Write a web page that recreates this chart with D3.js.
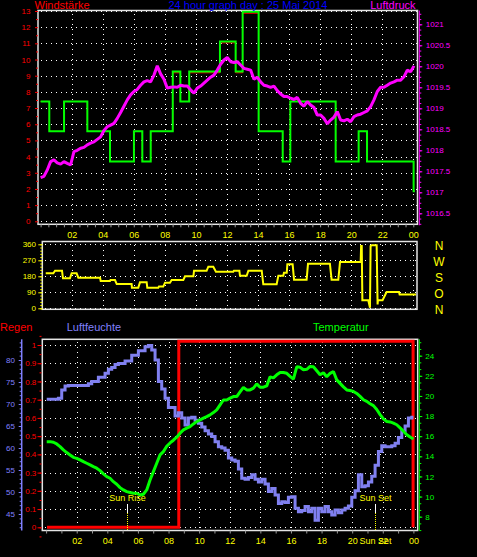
<!DOCTYPE html>
<html><head><meta charset="utf-8">
<script src="https://cdn.jsdelivr.net/npm/d3@7"></script>
<style>
html,body{margin:0;padding:0;background:#000;}
svg{display:block;font-family:"Liberation Sans",Arial,sans-serif;}
</style></head><body>
<svg id="chart" width="477" height="557"></svg>
<script>
// ---------------- DATA ----------------
const hourTicks = [2,4,6,8,10,12,14,16,18,20,22,24];
const hourLabels = ["02","04","06","08","10","12","14","16","18","20","22","00"];
const windTicks = [0,1,2,3,4,5,6,7,8,9,10,11,12,13];
const pressureTicks = [1016.5,1017,1017.5,1018,1018.5,1019,1019.5,1020,1020.5,1021];
const pressureLabels = ["1016.5","1017","1017.5","1018","1018.5","1019","1019.5","1020","1020.5","1021"];
const dirTicks = [0,90,180,270,360];
const dirLetters = ["N","O","S","W","N"]; // for 0,90,180,270,360
const rainTicks = [0,0.1,0.2,0.3,0.4,0.5,0.6,0.7,0.8,0.9,1];
const rainLabels = ["0","0.1","0.2","0.3","0.4","0.5","0.6","0.7","0.8","0.9","1"];
const humTicks = [45,50,55,60,65,70,75,80];
const tempTicks = [8,10,12,14,16,18,20,22,24];

// wind speed (mean, green) and gust (red), step series
const windHours = [0,0.56,1.51,3.01,4.47,6.01,6.55,7.09,8.51,9.0,9.57,11.55,12.56,13.01,14.04,15.59,16.08,19.0,20.48,21.02,24.02,24.1];
const windMean  = [7.41,5.56,7.41,5.56,3.70,5.56,3.70,5.56,9.26,7.41,9.26,11.11,9.26,12.96,5.56,3.70,7.41,3.70,5.56,3.70,1.85,1.85];
const windGust  = [7.41,5.56,7.41,5.56,3.70,5.56,3.70,5.56,9.18,7.41,9.18,11.03,9.18,12.86,5.56,3.70,7.41,3.70,5.56,3.70,1.85,1.85];

// air pressure (hPa), logged every ~12.9 min from 00:00
const pressureStartHour = 0;
const pressureStepMin = 12.88;
const pressure = [
1017.35,1017.38,1017.53,1017.73,1017.77,1017.70,1017.67,1017.73,1017.69,1017.65,
1017.97,1018.00,1018.05,1018.07,1018.13,1018.17,1018.20,1018.26,1018.32,1018.47,
1018.56,1018.60,1018.64,1018.76,1018.90,1019.05,1019.20,1019.32,1019.40,1019.45,
1019.55,1019.63,1019.66,1019.63,1019.79,1020.01,1019.82,1019.69,1019.48,1019.50,
1019.51,1019.50,1019.55,1019.53,1019.53,1019.44,1019.36,1019.48,1019.53,1019.60,
1019.67,1019.74,1019.79,1019.91,1020.05,1020.15,1020.21,1020.11,1020.09,1020.11,
1020.03,1019.95,1019.93,1019.91,1019.69,1019.74,1019.63,1019.55,1019.53,1019.50,
1019.53,1019.42,1019.34,1019.28,1019.28,1019.24,1019.21,1019.26,1019.12,1019.05,
1019.16,1019.08,1019.02,1018.84,1018.84,1018.76,1018.63,1018.72,1018.79,1018.92,
1018.72,1018.70,1018.74,1018.68,1018.80,1018.84,1018.86,1018.90,1018.94,1019.04,
1019.20,1019.40,1019.50,1019.50,1019.55,1019.60,1019.63,1019.67,1019.67,1019.75,
1019.91,1019.87,1020.01];

// wind direction (degrees), polyline vertices
const dirHours = [0.33,0.82,0.93,1.38,1.44,1.89,2.0,2.32,2.43,3.83,3.87,4.47,4.50,4.79,4.90,5.86,5.88,6.29,6.40,6.83,6.87,7.58,7.62,7.90,8.01,8.33,8.44,9.19,9.30,9.84,9.88,10.69,10.80,11.12,11.29,12.41,12.45,12.80,12.84,13.27,13.38,14.24,14.34,15.20,15.31,15.63,15.67,15.85,15.89,16.23,16.32,17.13,17.22,18.63,18.74,19.17,19.28,20.61,20.64,20.68,20.72,21.10,21.16,21.21,21.25,21.32,21.64,21.70,21.72,22.02,22.28,23.08,23.12,24.17];
const dirValues = [197,197,211,211,169,169,197,197,172,172,154,154,159,159,137,137,116,116,146,146,116,116,122,122,144,144,159,159,180,180,211,211,234,234,206,206,211,211,183,183,211,211,135,135,183,183,200,200,248,248,161,161,251,251,161,161,260,260,350,350,45,45,22,3,350,354,354,22,45,45,92,92,77,77];

// humidity (%) and temperature (°C), logged every ~13.1 min from 00:02
const climateStartHour = 0.04;
const climateStepMin = 13.07;
const humidity = [
71.1,71.1,71.1,71.1,71.3,73.2,74.1,74.2,74.2,74.2,
74.2,74.2,74.2,74.6,75.1,75.1,76.1,76.1,77.0,77.9,
78.3,79.0,79.2,79.2,79.8,79.8,81.1,81.1,82.1,82.1,
83.0,83.3,82.3,80.0,75.1,73.4,71.3,69.2,69.2,67.3,
68.0,66.8,65.2,66.8,67.0,66.3,65.6,64.8,63.9,63.2,
62.6,61.4,60.3,60.0,59.5,57.7,57.3,57.0,55.2,53.1,
52.9,53.3,53.9,52.9,52.3,52.9,51.8,50.1,50.8,49.3,
47.4,47.8,47.6,48.8,48.9,46.3,45.5,45.8,46.7,45.5,
46.3,43.6,46.3,45.5,46.7,45.5,44.8,45.9,45.3,45.9,
46.3,46.8,48.8,50.3,53.9,51.2,51.4,52.3,53.6,56.1,
59.2,60.5,60.3,60.3,60.5,61.1,62.4,63.8,65.0,66.8,
67.0];
const temperature = [
15.46,15.46,15.40,15.23,14.97,14.64,14.37,14.14,13.90,13.80,
13.64,13.47,13.31,13.15,12.98,12.82,12.58,12.25,11.98,11.82,
11.48,11.22,10.89,10.66,10.49,10.40,10.33,10.33,10.16,10.23,
10.66,11.65,12.48,13.31,14.14,14.47,15.00,15.33,15.60,15.90,
16.30,16.63,16.80,16.95,17.22,17.45,17.62,17.79,17.95,18.12,
18.35,18.62,19.11,19.60,19.60,19.78,19.94,19.94,20.40,20.85,
20.60,20.60,20.78,21.20,20.87,20.87,21.00,21.90,21.80,22.10,
22.33,22.33,22.25,21.95,21.67,22.90,22.85,22.60,22.65,22.93,
22.90,22.50,22.10,22.30,21.90,22.25,22.43,21.60,21.25,20.90,
20.60,20.54,20.45,20.25,19.96,19.62,19.46,19.23,19.04,18.65,
18.15,17.72,17.46,17.42,17.30,17.14,16.82,16.50,16.15,15.92,
15.72];

// rain
const rainHours = [0.06,8.67,8.67,23.98,23.98];
const rainValues = [0,0,1.02,1.02,0];

const sunRiseHour = 5.31;
const sunSetHour = 21.52;

// ---------------- DRAWING ----------------
const svg = d3.select("#chart");
svg.append("rect").attr("width",477).attr("height",557).attr("fill","#000");

const xTop = d3.scaleLinear().domain([0,24]).range([40.6,413.3]);
const yWind = d3.scaleLinear().domain([0,13]).range([221.3,11]);
const yPress = d3.scaleLinear().domain([1016.5,1021]).range([213.3,24.3]);
const yDir = d3.scaleLinear().domain([0,360]).range([308.3,244.3]);
const xBot = d3.scaleLinear().domain([0,24]).range([46.1,413.4]);
const yRain = d3.scaleLinear().domain([0,1]).range([527.3,345]);
const yHum = d3.scaleLinear().domain([45,80]).range([514,360]);
const yTemp = d3.scaleLinear().domain([8,24]).range([516.7,355.7]);

const topBox = {x0:38,x1:417.5,y0:10.5,y1:224.3};
const dirBox = {x0:42.3,x1:417,y0:241.5,y1:309.3};
const botBox = {x0:42.3,x1:417.7,y0:339.3,y1:530.5};

const FONT = '"Liberation Sans",Arial,sans-serif';
const px = v => Math.round(v) + 0.5;

function grid(box, xs, xs_scale, ys, ys_scale){
  const g = svg.append("g").attr("stroke","#fff").attr("stroke-width",1)
    .attr("stroke-dasharray","1,4").attr("shape-rendering","crispEdges");
  g.selectAll(null).data(ys).join("line")
    .attr("x1",box.x0+3).attr("x2",box.x1)
    .attr("y1",d=>px(ys_scale(d))).attr("y2",d=>px(ys_scale(d)));
  g.selectAll(null).data(xs).join("line")
    .attr("y1",box.y0+3).attr("y2",box.y1)
    .attr("x1",d=>px(xs_scale(d))).attr("x2",d=>px(xs_scale(d)));
}
function border(box){
  svg.append("rect").attr("x",box.x0).attr("y",box.y0)
    .attr("width",box.x1-box.x0).attr("height",box.y1-box.y0)
    .attr("fill","none").attr("stroke","#e4e4e4").attr("stroke-width",1.5);
}
function styleAxis(g, color, size){
  g.select(".domain").remove();
  g.selectAll(".tick line").attr("stroke",color);
  g.selectAll(".tick text").attr("fill",color).attr("font-size",size).attr("font-family",FONT);
}

// ---------- TOP PANEL ----------
grid(topBox, hourTicks, xTop, windTicks, yWind);
border(topBox);

// left red axis (wind)
svg.append("g").attr("transform",`translate(${topBox.x0},0)`)
  .call(d3.axisLeft(yWind).tickValues(d3.range(0.5,13,1)).tickSize(2).tickFormat(""))
  .call(g=>styleAxis(g,"#ff0000",8));
svg.append("g").attr("transform",`translate(${topBox.x0},0)`)
  .call(d3.axisLeft(yWind).tickValues(windTicks).tickSize(3).tickPadding(4.5))
  .call(g=>styleAxis(g,"#ff0000",8));

// right magenta axis (pressure)
svg.append("line").attr("x1",419.3).attr("x2",419.3).attr("y1",topBox.y0).attr("y2",topBox.y1+1)
  .attr("stroke","#ff00ff").attr("stroke-width",1);
svg.append("g").attr("transform","translate(419.3,0)")
  .call(d3.axisRight(yPress).tickValues(d3.range(1016.25,1021.3,0.125)).tickSize(2).tickFormat(""))
  .call(g=>styleAxis(g,"#ff00ff",8));
svg.append("g").attr("transform","translate(419.3,0)")
  .call(d3.axisRight(yPress).tickValues(pressureTicks).tickSize(3).tickPadding(3.5)
    .tickFormat((d,i)=>pressureLabels[i]))
  .call(g=>styleAxis(g,"#ff00ff",8));

// bottom time axis (top panel)
svg.append("g").attr("transform",`translate(0,${topBox.y1})`)
  .call(d3.axisBottom(xTop).tickValues(d3.range(0,24.3,0.5)).tickSize(3).tickFormat(""))
  .call(g=>styleAxis(g,"#9a9a9a",9));
svg.append("g").attr("transform",`translate(0,${topBox.y1})`)
  .call(d3.axisBottom(xTop).tickValues(hourTicks).tickSize(0).tickPadding(7.8)
    .tickFormat((d,i)=>hourLabels[i]))
  .call(g=>styleAxis(g,"#ffff00",9));

// wind lines
const windLine = vals => d3.line().x((d,i)=>xTop(windHours[i])).y(d=>yWind(d)).curve(d3.curveStepAfter)(vals);
svg.append("path").attr("d",windLine(windGust)).attr("fill","none").attr("stroke","#ff0000").attr("stroke-width",1);
svg.append("path").attr("d",windLine(windMean)).attr("fill","none").attr("stroke","#00ff00").attr("stroke-width",2);

// pressure line
const pressLine = d3.line()
  .x((d,i)=>xTop(pressureStartHour + i*pressureStepMin/60))
  .y(d=>yPress(d));
svg.append("path").attr("d",pressLine(pressure)).attr("fill","none")
  .attr("stroke","#ff00ff").attr("stroke-width",3).attr("stroke-linejoin","bevel");

// titles
svg.append("text").attr("x",34.5).attr("y",9).attr("fill","#ff0000").attr("font-size",11).text("Windstärke");
svg.append("text").attr("x",248).attr("y",9).attr("text-anchor","middle").attr("fill","#0000ff").attr("font-size",11)
  .text("24 hour graph day : 25 Mai 2014");
svg.append("text").attr("x",415.5).attr("y",9).attr("text-anchor","end").attr("fill","#ff00ff").attr("font-size",11).text("Luftdruck");

// ---------- WIND DIRECTION PANEL ----------
grid(dirBox, hourTicks, xTop, dirTicks, yDir);
border(dirBox);
svg.append("g").attr("transform",`translate(${dirBox.x0},0)`)
  .call(d3.axisLeft(yDir).tickValues(d3.range(0,361,18)).tickSize(2).tickFormat(""))
  .call(g=>styleAxis(g,"#ffff00",8));
svg.append("g").attr("transform",`translate(${dirBox.x0},0)`)
  .call(d3.axisLeft(yDir).tickValues(dirTicks).tickSize(4).tickPadding(2.3))
  .call(g=>styleAxis(g,"#ffff00",8));
svg.append("g").selectAll("text").data(dirTicks).join("text")
  .attr("x",439).attr("y",d=>yDir(d)+1.5).attr("dy","0.36em").attr("text-anchor","middle")
  .attr("fill","#ffff00").attr("font-size",12).attr("font-family",FONT)
  .text((d,i)=>dirLetters[i]);

const dirLine = d3.line().x((d,i)=>xTop(dirHours[i])).y(d=>yDir(d));
svg.append("path").attr("d",dirLine(dirValues)).attr("fill","none")
  .attr("stroke","#ffff00").attr("stroke-width",2);

// ---------- BOTTOM PANEL ----------
grid(botBox, hourTicks, xBot, rainTicks, yRain);
border(botBox);

svg.append("text").attr("x",0).attr("y",331).attr("fill","#ff0000").attr("font-size",11).text("Regen");
svg.append("text").attr("x",66.7).attr("y",331).attr("fill","#8080ff").attr("font-size",11).text("Luftfeuchte");
svg.append("text").attr("x",313).attr("y",331).attr("fill","#00ff00").attr("font-size",11).text("Temperatur");

// red rain axis (ticks on the white left border)
svg.append("g").attr("transform",`translate(${botBox.x0 - 0.8},0)`)
  .call(d3.axisLeft(yRain).tickValues(d3.range(-0.05,1.06,0.05)).tickSize(2).tickFormat(""))
  .call(g=>styleAxis(g,"#ff0000",8));
svg.append("g").attr("transform",`translate(${botBox.x0 - 0.8},0)`)
  .call(d3.axisLeft(yRain).tickValues(rainTicks).tickSize(4).tickPadding(1.2).tickFormat((d,i)=>rainLabels[i]))
  .call(g=>styleAxis(g,"#ff0000",8));

// blue humidity axis
svg.append("line").attr("x1",21.7).attr("x2",21.7).attr("y1",botBox.y0).attr("y2",botBox.y1)
  .attr("stroke","#8080ff").attr("stroke-width",1.5);
svg.append("g").attr("transform","translate(21.7,0)")
  .call(d3.axisLeft(yHum).tickValues(d3.range(42,85,1)).tickSize(2).tickFormat(""))
  .call(g=>styleAxis(g,"#8080ff",8));
svg.append("g").attr("transform","translate(21.7,0)")
  .call(d3.axisLeft(yHum).tickValues(humTicks).tickSize(3).tickPadding(3.7))
  .call(g=>styleAxis(g,"#8080ff",8));

// green temperature axis
svg.append("line").attr("x1",419.3).attr("x2",419.3).attr("y1",botBox.y0).attr("y2",botBox.y1)
  .attr("stroke","#00ff00").attr("stroke-width",1);
svg.append("g").attr("transform","translate(419.3,0)")
  .call(d3.axisRight(yTemp).tickValues(d3.range(6.67,25.6,2/3)).tickSize(2).tickFormat(""))
  .call(g=>styleAxis(g,"#00ff00",8));
svg.append("g").attr("transform","translate(419.3,0)")
  .call(d3.axisRight(yTemp).tickValues(tempTicks).tickSize(3).tickPadding(3))
  .call(g=>styleAxis(g,"#00ff00",8));

// bottom time axis
svg.append("g").attr("transform",`translate(0,${botBox.y1})`)
  .call(d3.axisBottom(xBot).tickValues(d3.range(0,24.3,1)).tickSize(3).tickFormat(""))
  .call(g=>styleAxis(g,"#9a9a9a",9));
svg.append("g").attr("transform",`translate(0,${botBox.y1})`)
  .call(d3.axisBottom(xBot).tickValues(hourTicks).tickSize(0).tickPadding(7.3)
    .tickFormat((d,i)=>hourLabels[i]))
  .call(g=>styleAxis(g,"#ffff00",9));

// rain line
const rainLine = d3.line().x((d,i)=>xBot(rainHours[i])).y(d=>yRain(d));
svg.append("path").attr("d",rainLine(rainValues)).attr("fill","none")
  .attr("stroke","#ff0000").attr("stroke-width",3);

// humidity (stair-stepped logger values) & temperature
const climateX = i => xBot(climateStartHour + i*climateStepMin/60);
svg.append("path").attr("d",d3.line().x((d,i)=>climateX(i)).y(d=>yHum(d)).curve(d3.curveStep)(humidity))
  .attr("fill","none").attr("stroke","#8080f0").attr("stroke-width",3).attr("stroke-linejoin","miter");
svg.append("path").attr("d",d3.line().x((d,i)=>climateX(i)).y(d=>yTemp(d))(temperature))
  .attr("fill","none").attr("stroke","#00ff00").attr("stroke-width",3).attr("stroke-linejoin","bevel");

// sun rise / sun set markers
const sunEvents = [{h:sunRiseHour,label:"Sun Rise"},{h:sunSetHour,label:"Sun Set"}];
const sg = svg.append("g");
sunEvents.forEach(ev=>{
  const x = px(xBot(ev.h));
  sg.append("text").attr("x",x).attr("y",501).attr("text-anchor","middle")
    .attr("fill","#ffff00").attr("font-size",9).attr("font-family",FONT).text(ev.label);
  sg.append("line").attr("x1",x).attr("x2",x).attr("y1",504).attr("y2",513)
    .attr("stroke","#ffffff").attr("stroke-width",1);
  sg.append("line").attr("x1",x).attr("x2",x).attr("y1",513).attr("y2",botBox.y1)
    .attr("stroke","#ffff00").attr("stroke-width",1).attr("stroke-dasharray","1,1");
});
// the original also prints the sunset marker in the hour-label row, over "22"
sg.append("text").attr("x",xBot(sunSetHour)).attr("y",544).attr("text-anchor","middle")
  .attr("fill","#ffff00").attr("font-size",9).attr("font-family",FONT).text("Sun Set");
</script>
</body></html>
